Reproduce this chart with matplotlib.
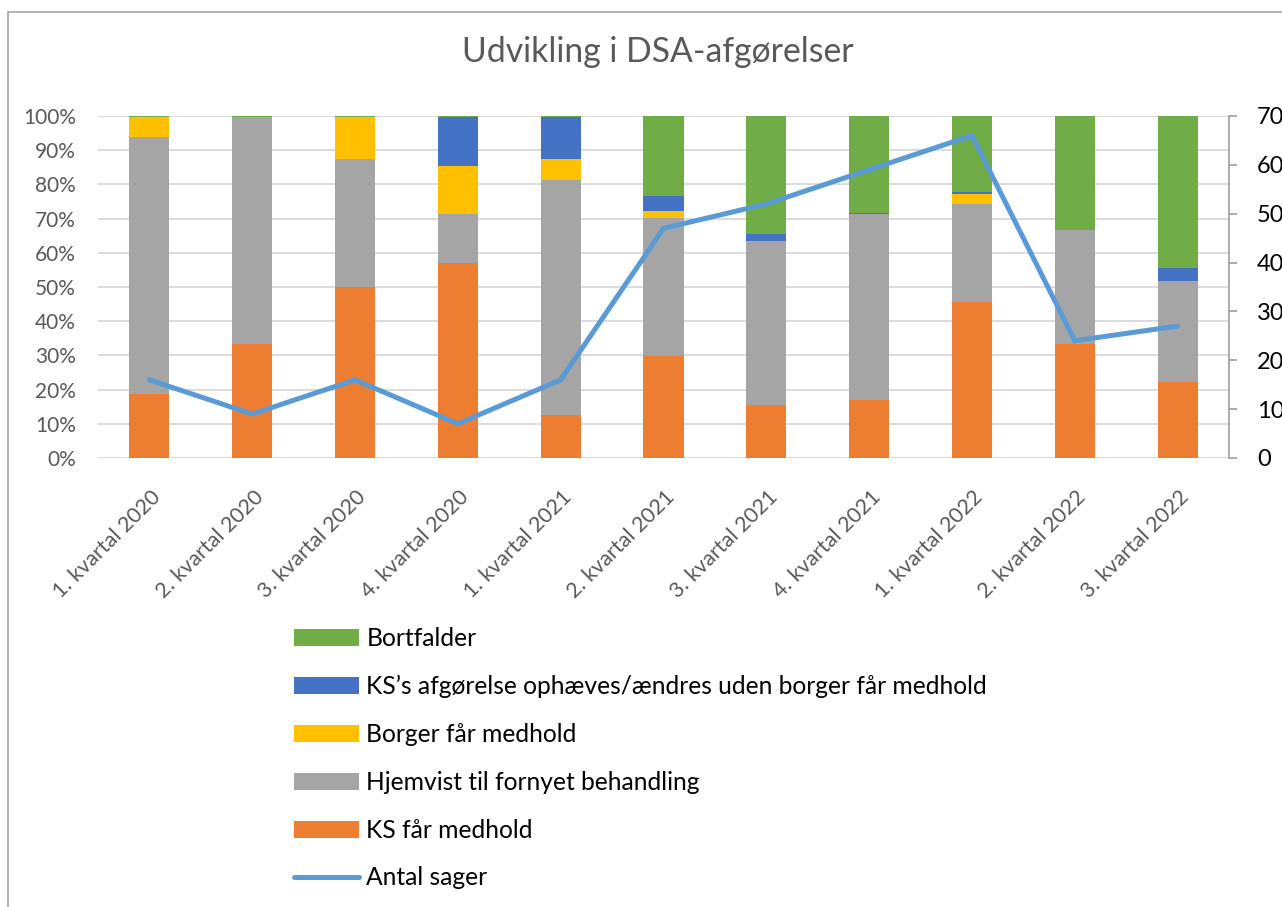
import matplotlib
matplotlib.use('Agg')

import matplotlib.pyplot as plt
import matplotlib.transforms as mtransforms
from matplotlib.patches import Patch, Rectangle
from matplotlib.lines import Line2D
from matplotlib.ticker import FuncFormatter

plt.rcParams['font.family'] = ['Lato', 'DejaVu Sans']

# ---------------- DATA ----------------
quarters = ["1. kvartal 2020", "2. kvartal 2020", "3. kvartal 2020", "4. kvartal 2020",
            "1. kvartal 2021", "2. kvartal 2021", "3. kvartal 2021", "4. kvartal 2021",
            "1. kvartal 2022", "2. kvartal 2022", "3. kvartal 2022"]

# share of decisions per quarter (%)
ks_medhold = [18.75, 33.3, 50.0, 57.1, 12.5, 29.8, 15.4, 16.9, 45.5, 33.3, 22.2]
hjemvist = [75.0, 66.3, 37.5, 14.3, 68.75, 40.4, 48.1, 54.3, 28.8, 33.4, 29.6]
borger_medhold = [5.85, 0, 12.1, 13.9, 6.25, 2.1, 0, 0, 3.0, 0, 0]
ophaeves = [0, 0, 0, 14.3, 12.1, 4.3, 1.9, 0.4, 0.4, 0, 3.7]
bortfalder = [0.4, 0.4, 0.4, 0.4, 0.4, 23.4, 34.6, 28.4, 22.3, 33.3, 44.5]

antal_sager = [16, 9, 16, 7, 16, 47, 52, 59, 66, 24, 27]

series = [
    ("KS får medhold", ks_medhold, "#ED7D31"),
    ("Hjemvist til fornyet behandling", hjemvist, "#A5A5A5"),
    ("Borger får medhold", borger_medhold, "#FFC000"),
    ("KS\u2019s afgørelse ophæves/ændres uden borger får medhold", ophaeves, "#4472C4"),
    ("Bortfalder", bortfalder, "#70AD47"),
]
line_color = "#5B9BD5"

# ---------------- FIGURE ----------------
fig = plt.figure(figsize=(12.82, 9.07), dpi=100)
fig.patches.append(Rectangle((8 / 1282, -0.1), 1.2, 1.1 - 12 / 907,
                             transform=fig.transFigure, fill=False,
                             edgecolor="#A6A6A6", linewidth=1.2))

ax = fig.add_axes([98 / 1282, 1 - 458 / 907, (1229 - 98) / 1282, (458 - 116) / 907])
x = list(range(len(quarters)))

bottom = [0] * len(quarters)
for name, vals, col in series:
    ax.bar(x, vals, width=0.39, bottom=bottom, color=col, zorder=2)
    bottom = [b + v for b, v in zip(bottom, vals)]

ax.set_ylim(0, 100)
ax.set_xlim(-0.5, len(quarters) - 0.5)
ax.set_yticks(range(0, 101, 10))
ax.yaxis.set_major_formatter(FuncFormatter(lambda v, p: f"{int(v)}%"))
ax.yaxis.grid(True, color="#D9D9D9", linewidth=1.3, zorder=0)
ax.set_axisbelow(True)
for s in ax.spines.values():
    s.set_visible(False)
ax.tick_params(axis='y', length=0, labelsize=15, colors="#595959", pad=16)
ax.tick_params(axis='x', length=0, labelsize=15.5, colors="#595959", pad=0)
ax.set_xticks(x)
ax.set_xticklabels(quarters, rotation=45, ha='right', va='center', rotation_mode='anchor')
offset = mtransforms.ScaledTranslation(0.08, -0.36, fig.dpi_scale_trans)
for lab in ax.get_xticklabels():
    lab.set_transform(lab.get_transform() + offset)

# secondary axis
ax2 = ax.twinx()
ax2.plot(x, antal_sager, color=line_color, linewidth=3.6, solid_capstyle='round',
         solid_joinstyle='miter', zorder=3)
ax2.set_ylim(0, 70)
ax2.set_yticks(range(0, 71, 10))
for s in ["top", "left", "bottom"]:
    ax2.spines[s].set_visible(False)
ax2.spines["right"].set_color("#A6A6A6")
ax2.spines["right"].set_linewidth(1.3)
ax2.tick_params(axis='y', length=6, width=1.3, color="#A6A6A6", labelsize=17,
                labelcolor="#000000", pad=14)

fig.text(658 / 1282, 1 - 52 / 907, "Udvikling i DSA-afgørelser", ha='center', va='center',
         fontsize=24.3, color="#595959")

# ---------------- LEGEND ----------------
handles = [Patch(facecolor=col, label=name) for name, vals, col in reversed(series)]
handles.append(Line2D([0], [0], color=line_color, linewidth=3.6, solid_capstyle='round',
                      label="Antal sager"))
fig.legend(handles=handles, loc='upper left', bbox_to_anchor=(294 / 1282, 1 - 627 / 907),
           frameon=False, fontsize=17.7, handlelength=2.64, handleheight=0.69,
           handletextpad=0.3, labelspacing=1.01, borderpad=0, borderaxespad=0)

fig.savefig("out.png", dpi=100)
